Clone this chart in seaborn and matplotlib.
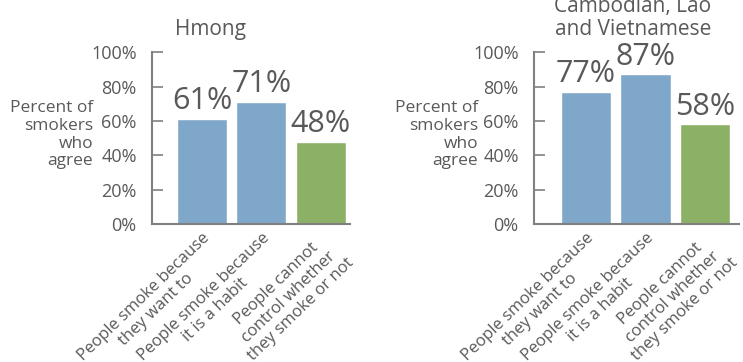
import pandas as pd
import matplotlib.pyplot as plt
import seaborn as sns

# categories and values
categories = [
    "People smoke because\nthey want to",
    "People smoke because\nit is a habit",
    "People cannot\ncontrol whether\nthey smoke or not",
]
hmong = [61, 71, 48]
clv = [77, 87, 58]
titles = ["Hmong", "Cambodian, Lao\nand Vietnamese"]
colors = ["#7fa7ca", "#7fa7ca", "#8bb066"]
ytick_vals = [0, 20, 40, 60, 80, 100]

sns.set_theme(style="white")
plt.rcParams["font.family"] = ["Open Sans", "DejaVu Sans"]
text_col = "#595959"
axis_col = "#808080"

fig = plt.figure(figsize=(7.43, 3.62), dpi=100)
ax1 = fig.add_axes([0.2046, 0.381, 0.2665, 0.475])
ax2 = fig.add_axes([0.7187, 0.381, 0.2760, 0.475])

panels = [
    (ax1, hmong, titles[0], (-0.84, 2.49), 0.293, 1.13, -0.298),
    (ax2, clv, titles[1], (-0.87, 2.57), 0.483, 1.20, -0.273),
]

for ax, vals, title, xlim, tx, ty, lx in panels:
    df = pd.DataFrame({"cat": categories, "pct": vals})
    sns.barplot(data=df, x="cat", y="pct", hue="cat", palette=colors,
                width=0.84, legend=False, ax=ax, saturation=1)
    for c in ax.containers:
        ax.bar_label(c, fmt="%d%%", padding=2, fontsize=22, color=text_col)
    ax.set_xlim(*xlim)
    ax.set_ylim(0, 100)
    ax.set_yticks(ytick_vals)
    ax.set_yticklabels([f"{v}%" for v in ytick_vals])
    ax.tick_params(axis="y", direction="in", length=8, width=1.2, color=axis_col,
                   labelsize=13, labelcolor=text_col, pad=11, left=True)
    ax.tick_params(axis="x", length=0, labelsize=12, labelcolor=text_col, pad=4)
    plt.setp(ax.get_xticklabels(), rotation=44, ha="right", va="top",
             rotation_mode="anchor", multialignment="center", linespacing=1.15)
    ax.set_xlabel("")
    ax.set_ylabel("Percent of\nsmokers\nwho\nagree", rotation=0, ha="right",
                  va="center", fontsize=12.5, color=text_col, linespacing=1.15)
    ax.yaxis.set_label_coords(lx, 0.52)
    for s in ["top", "right"]:
        ax.spines[s].set_visible(False)
    for s in ["left", "bottom"]:
        ax.spines[s].set_color(axis_col)
        ax.spines[s].set_linewidth(1.5)
        ax.spines[s].set_zorder(5)
    ax.text(tx, ty, title, transform=ax.transAxes, ha="center", va="center",
            fontsize=15, color=text_col, linespacing=1.1)

fig.savefig("out.png", dpi=100)
